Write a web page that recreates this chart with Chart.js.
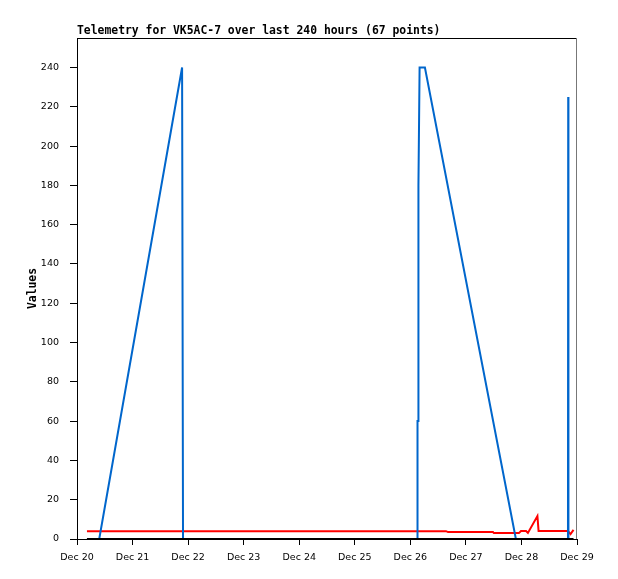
<!DOCTYPE html>
<html>
<head>
<meta charset="utf-8">
<script src="https://cdn.jsdelivr.net/npm/chart.js"></script>
<style>
  html, body { margin: 0; padding: 0; background: #fff; }
</style>
</head>
<body>
<canvas id="myChart" width="618" height="579"></canvas>
<script>
var chartTitle = "Telemetry for VK5AC-7 over last 240 hours (67 points)";
var dayLabels = ["Dec 20", "Dec 21", "Dec 22", "Dec 23", "Dec 24", "Dec 25", "Dec 26", "Dec 27", "Dec 28", "Dec 29"];
var yTicks = [0, 20, 40, 60, 80, 100, 120, 140, 160, 180, 200, 220, 240];

// hours since Dec 20 00:00
var blueHours  = [4.3, 9.6, 45.4, 45.8, 147.1, 147.1, 147.5, 147.5, 148.0, 150.3, 189.6, 212.1, 212.2, 212.3];
var blueValues = [0,   0,   240,  0,    0,     60,    60,    180,   240,   240,   0,     0,     225,   0];

var redHours  = [4.3, 159.4, 160.3, 179.7, 180.1, 190.9, 191.8, 194.0, 194.8, 198.9, 199.4, 212.1, 213.2, 214.5];
var redValues = [4.0, 4.0,   3.5,   3.5,   3.0,   3.0,   4.1,   4.1,   3.1,   11.7,  4.1,   4.1,   2.5,   4.6];

var blackHours  = [4.3, 214.5];
var blackValues = [0, 0];

function pts(hours, values) {
  return hours.map(function (h, i) { return { x: h, y: values[i] }; });
}

var frame = {
  id: 'frame',
  afterDraw: function (chart) {
    var ctx = chart.ctx, a = chart.chartArea;
    ctx.save();
    ctx.lineWidth = 1;
    ctx.strokeStyle = '#000';
    ctx.beginPath();
    ctx.moveTo(a.left, a.top + 0.5);
    ctx.lineTo(a.right, a.top + 0.5);
    ctx.stroke();
    ctx.strokeStyle = '#777';
    ctx.beginPath();
    ctx.moveTo(a.right - 0.5, a.top);
    ctx.lineTo(a.right - 0.5, a.bottom);
    ctx.stroke();
    ctx.fillStyle = '#000';
    ctx.font = 'bold 11.4px "DejaVu Sans Mono"';
    ctx.textAlign = 'left';
    ctx.textBaseline = 'alphabetic';
    ctx.fillText(chartTitle, a.left, 34);
    ctx.restore();
  }
};

new Chart("myChart", {
  type: "line",
  data: {
    datasets: [
      { data: pts(blackHours, blackValues), borderColor: "#000", borderWidth: 2 },
      { data: pts(blueHours, blueValues), borderColor: "#0066cc", borderWidth: 2 },
      { data: pts(redHours, redValues), borderColor: "#ff0000", borderWidth: 2 }
    ]
  },
  options: {
    responsive: false,
    animation: false,
    layout: { padding: { top: 38, left: 0, right: 41, bottom: 0 } },
    elements: { point: { radius: 0 }, line: { tension: 0 } },
    plugins: { legend: { display: false }, tooltip: { enabled: false } },
    scales: {
      x: {
        type: "linear",
        min: 0,
        max: 216,
        afterBuildTicks: function (s) { s.ticks = dayLabels.map(function (l, i) { return { value: i * 24 }; }); },
        afterFit: function (s) { s.height = 40; },
        ticks: {
          autoSkip: false, maxRotation: 0, padding: 7, color: "#000",
          font: { family: "DejaVu Sans", size: 9.5 },
          callback: function (v, i) { return dayLabels[i]; }
        },
        grid: { drawOnChartArea: false, tickLength: 6, color: "#000" },
        border: { color: "#000" }
      },
      y: {
        min: 0,
        max: 255,
        afterBuildTicks: function (s) { s.ticks = yTicks.map(function (v) { return { value: v }; }); },
        afterFit: function (s) { s.width = 77; },
        ticks: {
          padding: 11, color: "#000",
          font: { family: "DejaVu Sans", size: 9.5 }
        },
        grid: { drawOnChartArea: false, tickLength: 7, color: "#000" },
        border: { color: "#000" },
        title: {
          display: true, text: "Values", color: "#000", padding: { top: 26, bottom: 0 },
          font: { family: "DejaVu Sans Mono", size: 11.4, weight: "bold" }
        }
      }
    }
  },
  plugins: [frame]
});
</script>
</body>
</html>
